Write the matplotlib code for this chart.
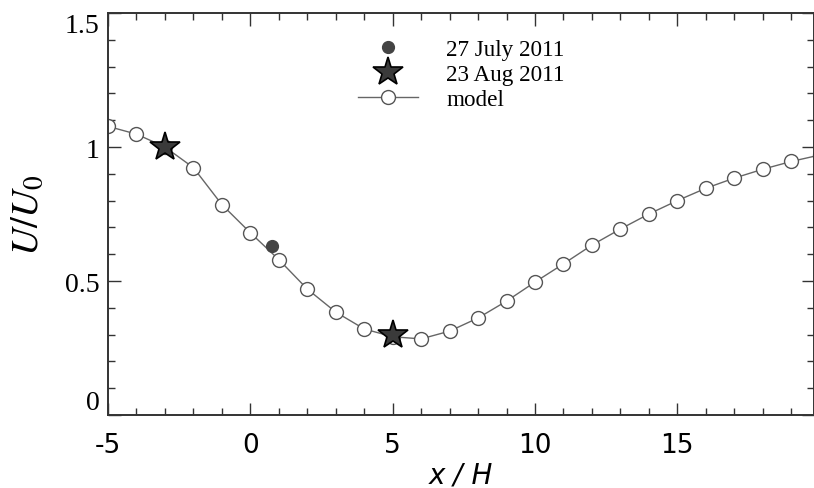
import numpy as np
import matplotlib.pyplot as plt
from matplotlib.ticker import MultipleLocator

plt.rcParams['mathtext.fontset'] = 'stix'
plt.rcParams['axes.unicode_minus'] = False

# model curve (open circles at every x/H)
x_model = [-5, -4, -3, -2, -1, 0, 1, 2, 3, 4, 5, 6, 7, 8, 9, 10,
           11, 12, 13, 14, 15, 16, 17, 18, 19, 20]
u_model = [1.077, 1.048, 1.0, 0.923, 0.785, 0.680, 0.580, 0.470, 0.384, 0.321,
           0.292, 0.284, 0.313, 0.362, 0.425, 0.496, 0.564, 0.634, 0.694, 0.750,
           0.800, 0.846, 0.884, 0.917, 0.946, 0.970]

# measurements
x_july = [0.77]
u_july = [0.632]
x_aug = [-3, 5]
u_aug = [1.0, 0.297]

serif = 'Liberation Serif'

fig = plt.figure(figsize=(8.14, 4.89), dpi=100)
ax = fig.add_axes([108/814, 1 - 416/489, 1 - 108/814, (416 - 14)/489])

ax.plot(x_model, u_model, color='#666666', lw=1.0, marker='o', ms=10,
        mfc='white', mec='#555555', mew=1.0, label='model', zorder=2)
ax.plot(x_july, u_july, ls='none', marker='o', ms=8.5, color='#444444',
        label='27 July 2011', zorder=3)
ax.plot(x_aug, u_aug, ls='none', marker='*', ms=22, mfc='#3a3a3a',
        mec='black', mew=1.2, label='23 Aug 2011', zorder=3)

ax.set_xlim(-5, 19.8)
ax.set_ylim(0, 1.5)

ax.xaxis.set_major_locator(MultipleLocator(5))
ax.xaxis.set_minor_locator(MultipleLocator(1))
ax.yaxis.set_major_locator(MultipleLocator(0.5))
ax.yaxis.set_minor_locator(MultipleLocator(0.1))
ax.tick_params(which='both', direction='in', top=True, right=True,
               color='#333333', width=1.0)
ax.tick_params(which='major', length=9)
ax.tick_params(which='minor', length=5)
ax.tick_params(axis='x', labelsize=19, pad=12)
ax.tick_params(axis='y', labelsize=20, pad=6)

ax.set_yticks([0, 0.5, 1, 1.5])
ax.set_yticklabels(['0', '0.5', '1', '1.5'], fontfamily=serif)
ylabs = ax.get_yticklabels()
ylabs[0].set_va('bottom')
ylabs[-1].set_va('top')

for s in ax.spines.values():
    s.set_linewidth(1.4)
    s.set_color('#333333')

ax.set_xlabel('x / H', fontsize=20, style='italic', labelpad=2)
ax.set_ylabel('$U/U_0$', fontsize=28, labelpad=14)

# legend order as in the picture
h, l = ax.get_legend_handles_labels()
order = [1, 2, 0]
fig.legend([h[i] for i in order], [l[i] for i in order],
           loc='upper left', bbox_to_anchor=(358/814, 1 - 40/489),
           frameon=False, borderpad=0, borderaxespad=0,
           handlelength=2.6, handletextpad=1.2, labelspacing=0.15,
           prop={'family': serif, 'size': 16.7}, markerscale=1.0)

fig.savefig('out.png', dpi=100)
